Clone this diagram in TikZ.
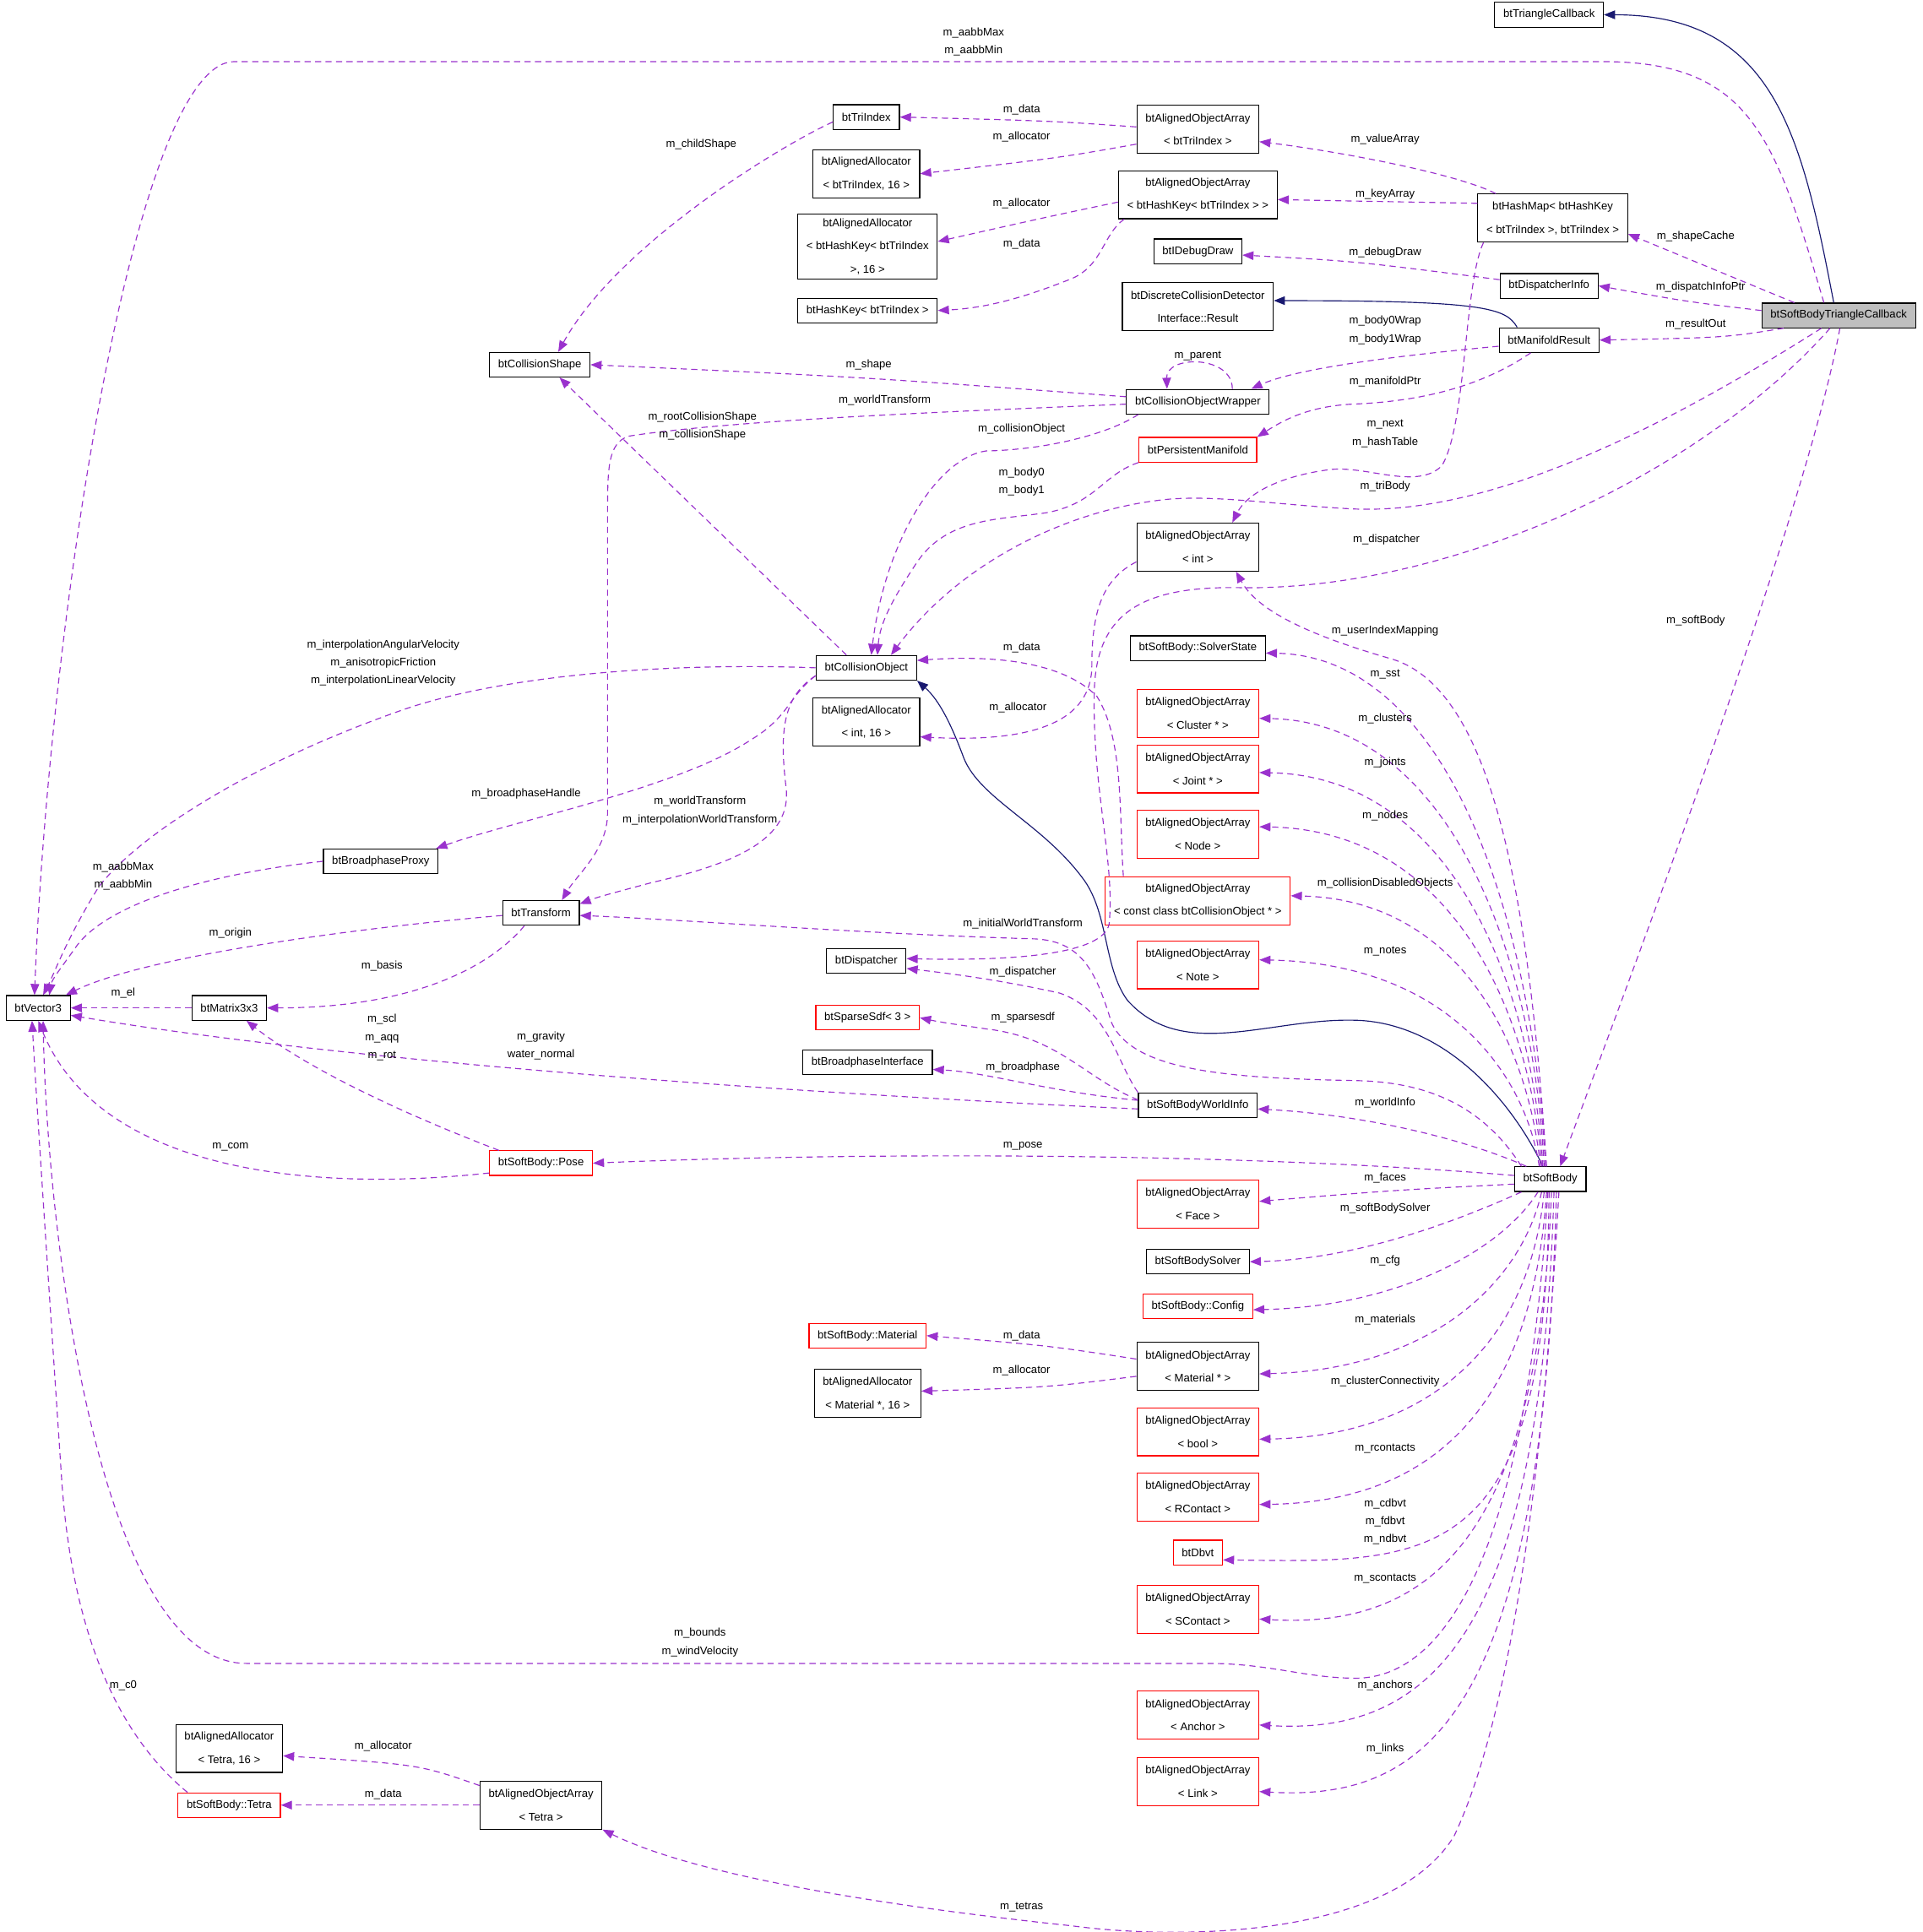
\documentclass[tikz,border=0pt]{standalone}
\usepackage{fontspec}
\setmainfont{Liberation Sans}
\usetikzlibrary{arrows.meta,calc}
\definecolor{memberc}{HTML}{9A32CD}
\definecolor{inheritc}{HTML}{191970}
\definecolor{boxred}{HTML}{FF0000}
\definecolor{classgray}{HTML}{BFBFBF}
\newcommand\classfont{\fontsize{9}{19}\selectfont}
\newcommand\memberfont{\fontsize{9}{14.6}\selectfont}

\begin{document}
\begin{tikzpicture}[x=1pt,y=-1pt,
  cls/.style={draw=black,line width=0.8pt,fill=white,font=\classfont,inner xsep=7pt,inner ysep=3pt,minimum height=20pt,align=center},
  clsred/.style={cls,draw=boxred},
  twoline/.style={minimum height=39pt},
  lbl/.style={font=\memberfont,inner sep=0.5pt,align=center},
  member/.style={draw=memberc,line width=0.8pt,dash pattern=on 5pt off 3.5pt,-{Triangle[length=9pt,width=7pt]}},
  inherit/.style={draw=inheritc,line width=0.8pt,-{Triangle[length=9pt,width=7pt]}}]
\useasboundingbox (0,0) rectangle (1560,1568);

  %classes
  \node[cls] (triCb) at (1257,12) {btTriangleCallback};
  \node[cls,fill=classgray] (sbtc) at (1492,256) {btSoftBodyTriangleCallback};
  \node[cls] (vec) at (31,818) {btVector3};
  \node[cls] (triIdx) at (703,95) {btTriIndex};
  \node[cls,twoline] (aoaTri) at (972,105) {btAlignedObjectArray\\< btTriIndex >};
  \node[cls,twoline] (allocTri) at (703,141) {btAlignedAllocator\\< btTriIndex, 16 >};
  \node[cls,twoline] (aoaHash) at (972,158) {btAlignedObjectArray\\< btHashKey< btTriIndex > >};
  \node[cls,minimum height=53pt] (allocHash) at (704,200) {btAlignedAllocator\\< btHashKey< btTriIndex\\>, 16 >};
  \node[cls] (hashKey) at (704,252) {btHashKey< btTriIndex >};
  \node[cls,twoline] (hashMap) at (1260,177) {btHashMap< btHashKey\\< btTriIndex >, btTriIndex >};
  \node[cls] (debugDraw) at (972,204) {btIDebugDraw};
  \node[cls] (dispInfo) at (1257,232) {btDispatcherInfo};
  \node[cls,twoline] (dcdResult) at (972,249) {btDiscreteCollisionDetector\\Interface::Result};
  \node[cls] (manifoldRes) at (1257,276) {btManifoldResult};
  \node[cls] (colShape) at (438,296) {btCollisionShape};
  \node[cls] (colWrap) at (972,326) {btCollisionObjectWrapper};
  \node[clsred] (persMan) at (972,365) {btPersistentManifold};
  \node[cls,twoline] (aoaInt) at (972,444) {btAlignedObjectArray\\< int >};
  \node[cls] (colObj) at (703,542) {btCollisionObject};
  \node[cls,twoline] (allocInt) at (703,586) {btAlignedAllocator\\< int, 16 >};
  \node[cls] (solverState) at (972,526) {btSoftBody::SolverState};
  \node[clsred,twoline] (aoaCluster) at (972,579) {btAlignedObjectArray\\< Cluster * >};
  \node[clsred,twoline] (aoaJoint) at (972,624) {btAlignedObjectArray\\< Joint * >};
  \node[clsred,twoline] (aoaNode) at (972,677) {btAlignedObjectArray\\< Node >};
  \node[clsred,twoline] (aoaConstCol) at (972,731) {btAlignedObjectArray\\< const class btCollisionObject * >};
  \node[clsred,twoline] (aoaNote) at (972,783) {btAlignedObjectArray\\< Note >};
  \node[cls] (bpProxy) at (309,699) {btBroadphaseProxy};
  \node[cls] (transform) at (439,741) {btTransform};
  \node[cls] (dispatcher) at (703,780) {btDispatcher};
  \node[cls] (matrix) at (186,818) {btMatrix3x3};
  \node[clsred] (sparseSdf) at (704,826) {btSparseSdf< 3 >};
  \node[cls] (bpIface) at (704,862) {btBroadphaseInterface};
  \node[cls] (worldInfo) at (972,897) {btSoftBodyWorldInfo};
  \node[clsred] (pose) at (439,944) {btSoftBody::Pose};
  \node[cls] (softBody) at (1258,957) {btSoftBody};
  \node[clsred,twoline] (aoaFace) at (972,977) {btAlignedObjectArray\\< Face >};
  \node[cls] (sbSolver) at (972,1024) {btSoftBodySolver};
  \node[clsred] (config) at (972,1060) {btSoftBody::Config};
  \node[clsred] (material) at (704,1084) {btSoftBody::Material};
  \node[cls,twoline] (aoaMaterial) at (972,1109) {btAlignedObjectArray\\< Material * >};
  \node[cls,twoline] (allocMaterial) at (704,1131) {btAlignedAllocator\\< Material *, 16 >};
  \node[clsred,twoline] (aoaBool) at (972,1162) {btAlignedObjectArray\\< bool >};
  \node[clsred,twoline] (aoaRContact) at (972,1215) {btAlignedObjectArray\\< RContact >};
  \node[clsred] (dbvt) at (972,1260) {btDbvt};
  \node[clsred,twoline] (aoaSContact) at (972,1306) {btAlignedObjectArray\\< SContact >};
  \node[clsred,twoline] (aoaAnchor) at (972,1392) {btAlignedObjectArray\\< Anchor >};
  \node[clsred,twoline] (aoaLink) at (972,1446) {btAlignedObjectArray\\< Link >};
  \node[cls,twoline] (allocTetra) at (186,1419) {btAlignedAllocator\\< Tetra, 16 >};
  \node[clsred] (tetra) at (186,1465) {btSoftBody::Tetra};
  \node[cls,twoline] (aoaTetra) at (439,1465) {btAlignedObjectArray\\< Tetra >};

  %inheritance
  \draw[inherit] ($(sbtc.north)+(-4,0)$) .. controls (1462,110) and (1440,12) .. (triCb.east);
  \draw[inherit] ($(manifoldRes.north west)+(15,0)$) .. controls (1222,250) and (1205,244) .. ($(dcdResult.east)+(0,-5)$);
  \draw[inherit] ($(softBody.north)+(-6,0)$) .. controls (1225,890) and (1170,830) .. (1100,828)
     .. controls (1030,826) and (960,862) .. (915,812) .. controls (895,785) and (900,740) .. (878,712)
     .. controls (845,668) and (795,648) .. (782,615) .. controls (772,588) and (762,568) .. (colObj.south east);

  %btSoftBodyTriangleCallback
  \draw[member] ($(sbtc.north)+(-12,0)$) .. controls (1440,110) and (1420,50) .. (1300,50) -- (190,50)
     .. controls (110,50) and (40,500) .. ($(vec.north)+(-3,0)$);
  \draw[member] ($(sbtc.north)+(-36,0)$) -- ($(hashMap.south east)+(0,-7)$);
  \draw[member] ($(sbtc.west)+(0,-4)$) .. controls (1370,245) .. (dispInfo.east);
  \draw[member] ($(sbtc.south west)+(18,0)$) .. controls (1400,274) .. (manifoldRes.east);
  \draw[member] ($(sbtc.south)+(-14,0)$) .. controls (1330,360) and (1200,418) .. (1097,413)
     .. controls (1040,410) and (990,402) .. (950,405) .. controls (870,412) and (780,455) .. ($(colObj.north)+(20,0)$);
  \draw[member] ($(sbtc.south)+(-7,0)$) .. controls (1380,385) and (1180,478) .. (1010,477)
     .. controls (930,475) and (890,495) .. (888,560) .. controls (886,640) and (905,700) .. (900,750)
     .. controls (895,775) and (820,780) .. ($(dispatcher.east)+(0,-2)$);
  \draw[member] ($(sbtc.south)+(1,0)$) .. controls (1465,420) and (1320,800) .. ($(softBody.north)+(8,0)$);

  %btHashMap and arrays
  \draw[member] ($(hashMap.north west)+(15,0)$) .. controls (1180,140) and (1080,122) .. ($(aoaTri.east)+(0,10)$);
  \draw[member] ($(hashMap.west)+(0,-12)$) -- ($(aoaHash.east)+(0,4)$);
  \draw[member] ($(hashMap.south west)+(5,0)$) .. controls (1188,230) and (1190,345) .. (1170,378)
     .. controls (1150,398) and (1110,378) .. (1080,381) .. controls (1040,386) and (1012,400) .. ($(aoaInt.north)+(28,0)$);
  \draw[member] ($(aoaTri.west)+(0,-2)$) .. controls (850,98) .. (triIdx.east);
  \draw[member] ($(aoaTri.west)+(0,12)$) .. controls (860,128) .. (allocTri.east);
  \draw[member] ($(aoaHash.west)+(0,6)$) .. controls (850,176) .. ($(allocHash.east)+(0,-4)$);
  \draw[member] ($(aoaHash.south west)+(5,0)$) .. controls (895,190) and (895,215) .. (870,226)
     .. controls (830,242) and (800,250) .. (hashKey.east);
  \draw[member] ($(triIdx.west)+(0,4)$) .. controls (630,120) and (500,200) .. ($(colShape.north)+(15,0)$);

  %result and wrapper
  \draw[member] ($(dispInfo.west)+(0,-5)$) .. controls (1100,212) .. ($(debugDraw.east)+(0,3)$);
  \draw[member] ($(manifoldRes.west)+(0,5)$) .. controls (1120,290) and (1050,300) .. ($(colWrap.north east)+(-15,0)$);
  \draw[member] ($(manifoldRes.south west)+(26,0)$) .. controls (1200,315) and (1150,326) .. (1097,328)
     .. controls (1060,330) and (1040,342) .. (persMan.north east);
  \draw[member] ($(colWrap.west)+(0,-4)$) .. controls (700,306) .. (colShape.east);
  \draw[member] ($(colWrap.north)+(28,0)$) .. controls (1000,288) and (946,288) .. ($(colWrap.north)+(-25,0)$);
  \draw[member] ($(colWrap.west)+(0,2)$) .. controls (800,333) and (600,340) .. (510,354)
     .. controls (493,360) and (493,380) .. (493,420) -- (493,660) .. controls (493,690) and (468,710) .. ($(transform.north)+(17,0)$);
  \draw[member] ($(colWrap.south west)+(10,0)$) .. controls (900,352) and (850,365) .. (800,366)
     .. controls (760,372) and (718,440) .. ($(colObj.north)+(4,0)$);
  \draw[member] (persMan.south west) .. controls (895,385) and (890,408) .. (850,416)
     .. controls (810,422) and (770,420) .. (745,455) .. controls (725,485) and (714,505) .. ($(colObj.north)+(9,0)$);
  \draw[member] ($(aoaInt.west)+(0,12)$) .. controls (895,470) and (886,495) .. (886,540)
     .. controls (886,585) and (840,603) .. ($(allocInt.east)+(0,12)$);
  \draw[member] ($(aoaConstCol.north west)+(15,0)$) .. controls (908,660) and (912,600) .. (890,565)
     .. controls (860,535) and (800,532) .. ($(colObj.east)+(0,-6)$);

  %btCollisionObject
  \draw[member] ($(colObj.north west)+(25,0)$) -- ($(colShape.south)+(16,0)$);
  \draw[member] (colObj.west) .. controls (560,538) and (420,545) .. (330,575) .. controls (200,620) and (110,680) .. (80,720)
     .. controls (55,760) and (44,790) .. ($(vec.north)+(4,0)$);
  \draw[member] ($(colObj.south west)+(0,-4)$) .. controls (640,565) and (640,582) .. (610,600)
     .. controls (550,640) and (420,665) .. ($(bpProxy.north east)+(-2,0)$);
  \draw[member] ($(colObj.south west)+(0,-4)$) .. controls (636,565) and (632,592) .. (638,640)
     .. controls (642,680) and (600,700) .. (530,716) .. controls (500,724) and (485,728) .. ($(transform.north east)+(0,3)$);

  %left side
  \draw[member] (bpProxy.west) .. controls (180,708) and (90,730) .. (62,768) .. controls (50,785) and (42,795) .. ($(vec.north)+(9,0)$);
  \draw[member] ($(transform.west)+(0,2)$) .. controls (300,752) and (120,775) .. ($(vec.north east)+(-4,0)$);
  \draw[member] ($(transform.south west)+(18,0)$) .. controls (400,782) and (340,818) .. (matrix.east);
  \draw[member] (matrix.west) -- (vec.east);
  \draw[member] ($(worldInfo.west)+(0,3)$) .. controls (700,890) and (300,865) .. ($(vec.east)+(0,6)$);
  \draw[member] ($(pose.north west)+(8,0)$) .. controls (330,905) and (250,868) .. ($(matrix.south)+(14,0)$);
  \draw[member] ($(pose.west)+(0,8)$) .. controls (250,968) and (80,950) .. (vec.south);
  \draw[member] ($(tetra.north west)+(8,0)$) .. controls (110,1420) and (60,1350) .. (50,1200)
     .. controls (40,1050) and (30,900) .. ($(vec.south)+(-5,0)$);
  \draw[member] ($(aoaTetra.north west)+(0,4)$) .. controls (340,1432) .. ($(allocTetra.east)+(0,6)$);
  \draw[member] (aoaTetra.west) -- (tetra.east);
  \draw[member] ($(aoaMaterial.west)+(0,-6)$) .. controls (850,1092) .. (material.east);
  \draw[member] ($(aoaMaterial.west)+(0,8)$) .. controls (850,1126) .. ($(allocMaterial.east)+(0,-2)$);

  %btSoftBodyWorldInfo
  \draw[member] (worldInfo.north west) .. controls (905,860) and (900,820) .. (860,806)
     .. controls (810,795) and (770,790) .. ($(dispatcher.east)+(0,6)$);
  \draw[member] ($(worldInfo.north west)+(0,6)$) .. controls (880,875) and (860,842) .. (800,835)
     .. controls (780,832) and (765,830) .. (sparseSdf.east);
  \draw[member] ($(worldInfo.west)+(0,-4)$) .. controls (850,886) and (800,870) .. ($(bpIface.east)+(0,6)$);

  %btSoftBody, upper fan
  \draw[member] ($(softBody.north)+(-3,0)$) .. controls (1240,720) and (1210,560) .. (1130,535)
     .. controls (1060,515) and (1020,495) .. ($(aoaInt.south)+(31,0)$);
  \draw[member] ($(softBody.north)+(-4,0)$) .. controls (1245,760) and (1180,533) .. ($(solverState.east)+(0,4)$);
  \draw[member] ($(softBody.north)+(-5,0)$) .. controls (1245,783) and (1180,586) .. ($(aoaCluster.east)+(0,4)$);
  \draw[member] ($(softBody.north)+(-6,0)$) .. controls (1243,803) and (1180,630) .. ($(aoaJoint.east)+(0,3)$);
  \draw[member] ($(softBody.north)+(-7,0)$) .. controls (1242,823) and (1180,674) .. ($(aoaNode.east)+(0,-6)$);
  \draw[member] ($(softBody.north)+(-8,0)$) .. controls (1240,848) and (1185,730) .. ($(aoaConstCol.east)+(0,-4)$);
  \draw[member] ($(softBody.north)+(-9,0)$) .. controls (1238,872) and (1175,782) .. ($(aoaNote.east)+(0,-4)$);
  \draw[member] ($(softBody.north west)+(10,0)$) .. controls (1190,925) and (1110,905) .. ($(worldInfo.east)+(0,3)$);
  \draw[member] ($(softBody.north west)+(6,0)$) .. controls (1200,892) and (1150,878) .. (1100,877)
     .. controls (1000,875) and (920,870) .. (902,830) .. controls (890,792) and (880,764) .. (840,762)
     .. controls (700,758) and (550,746) .. ($(transform.east)+(0,2)$);
  \draw[member] ($(softBody.west)+(0,-3)$) .. controls (1000,935) and (700,935) .. (pose.east);

  %btSoftBody, lower fan
  \draw[member] ($(softBody.west)+(0,4)$) .. controls (1130,966) .. ($(aoaFace.east)+(0,-2)$);
  \draw[member] ($(softBody.south west)+(6,0)$) .. controls (1180,992) and (1100,1022) .. (sbSolver.east);
  \draw[member] ($(softBody.south)+(-10,0)$) .. controls (1220,1012) and (1140,1060) .. ($(config.east)+(0,3)$);
  \draw[member] ($(softBody.south)+(-7,0)$) .. controls (1232,1050) and (1150,1112) .. ($(aoaMaterial.east)+(0,6)$);
  \draw[member] ($(softBody.south)+(-5,0)$) .. controls (1240,1100) and (1150,1166) .. ($(aoaBool.east)+(0,6)$);
  \draw[member] ($(softBody.south)+(-3,0)$) .. controls (1243,1150) and (1155,1219) .. ($(aoaRContact.east)+(0,6)$);
  \draw[member] ($(softBody.south)+(-1,0)$) .. controls (1255,1275) and (1160,1268) .. ($(dbvt.east)+(0,6)$);
  \draw[member] ($(softBody.south)+(1,0)$) .. controls (1248,1250) and (1160,1322) .. ($(aoaSContact.east)+(0,8)$);
  \draw[member] ($(softBody.south)+(3,0)$) .. controls (1250,1330) and (1160,1408) .. ($(aoaAnchor.east)+(0,8)$);
  \draw[member] ($(softBody.south)+(5,0)$) .. controls (1252,1390) and (1160,1462) .. ($(aoaLink.east)+(0,8)$);
  \draw[member] ($(softBody.south)+(-2,0)$) .. controls (1240,1240) and (1180,1362) .. (1100,1362)
     .. controls (1060,1362) and (1030,1350) .. (980,1350) -- (200,1350) .. controls (80,1350) and (38,1000) .. ($(vec.south)+(4,0)$);
  \draw[member] ($(softBody.south)+(7,0)$) .. controls (1255,1150) and (1232,1380) .. (1180,1490)
     .. controls (1130,1572) and (960,1575) .. (870,1563) .. controls (700,1545) and (560,1520) .. (aoaTetra.south east);

  %labels
  \node[lbl] (lAabbTop) at (790,34) {m\_aabbMax\\m\_aabbMin};
  \node[lbl] (lValueArray) at (1124,113) {m\_valueArray};
  \node[lbl] (lKeyArray) at (1124,158) {m\_keyArray};
  \node[lbl] (lShapeCache) at (1376,192) {m\_shapeCache};
  \node[lbl] (lDispInfoPtr) at (1380,233) {m\_dispatchInfoPtr};
  \node[lbl] (lResultOut) at (1376,263) {m\_resultOut};
  \node[lbl] (lTriData) at (829,89) {m\_data};
  \node[lbl] (lTriAlloc) at (829,111) {m\_allocator};
  \node[lbl] (lHashAlloc) at (829,165) {m\_allocator};
  \node[lbl] (lHashData) at (829,198) {m\_data};
  \node[lbl] (lChildShape) at (569,117) {m\_childShape};
  \node[lbl] (lDebugDraw) at (1124,205) {m\_debugDraw};
  \node[lbl] (lBodyWrap) at (1124,268) {m\_body0Wrap\\m\_body1Wrap};
  \node[lbl] (lParent) at (972,289) {m\_parent};
  \node[lbl] (lShape) at (705,296) {m\_shape};
  \node[lbl] (lWrapTrans) at (718,325) {m\_worldTransform};
  \node[lbl] (lColShape) at (570,346) {m\_rootCollisionShape\\m\_collisionShape};
  \node[lbl] (lManifoldPtr) at (1124,310) {m\_manifoldPtr};
  \node[lbl] (lColObject) at (829,348) {m\_collisionObject};
  \node[lbl] (lHashTable) at (1124,352) {m\_next\\m\_hashTable};
  \node[lbl] (lBodies) at (829,391) {m\_body0\\m\_body1};
  \node[lbl] (lTriBody) at (1124,395) {m\_triBody};
  \node[lbl] (lCbDispatcher) at (1125,438) {m\_dispatcher};
  \node[lbl] (lUserIndex) at (1124,512) {m\_userIndexMapping};
  \node[lbl] (lSoftBody) at (1376,504) {m\_softBody};
  \node[lbl] (lVelocities) at (311,538) {m\_interpolationAngularVelocity\\m\_anisotropicFriction\\m\_interpolationLinearVelocity};
  \node[lbl] (lConstData) at (829,526) {m\_data};
  \node[lbl] (lSst) at (1124,547) {m\_sst};
  \node[lbl] (lIntAlloc) at (826,574) {m\_allocator};
  \node[lbl] (lClusters) at (1124,583) {m\_clusters};
  \node[lbl] (lJoints) at (1124,619) {m\_joints};
  \node[lbl] (lBpHandle) at (427,644) {m\_broadphaseHandle};
  \node[lbl] (lObjTrans) at (568,658) {m\_worldTransform\\m\_interpolationWorldTransform};
  \node[lbl] (lNodes) at (1124,662) {m\_nodes};
  \node[lbl] (lAabbProxy) at (100,711) {m\_aabbMax\\m\_aabbMin};
  \node[lbl] (lDisabled) at (1124,717) {m\_collisionDisabledObjects};
  \node[lbl] (lInitTrans) at (830,750) {m\_initialWorldTransform};
  \node[lbl] (lOrigin) at (187,757) {m\_origin};
  \node[lbl] (lNotes) at (1124,772) {m\_notes};
  \node[lbl] (lBasis) at (310,784) {m\_basis};
  \node[lbl] (lWiDispatcher) at (830,789) {m\_dispatcher};
  \node[lbl] (lEl) at (100,806) {m\_el};
  \node[lbl] (lSparse) at (830,826) {m\_sparsesdf};
  \node[lbl] (lPoseMat) at (310,842) {m\_scl\\m\_aqq\\m\_rot};
  \node[lbl] (lGravity) at (439,849) {m\_gravity\\water\_normal};
  \node[lbl] (lBroadphase) at (830,866) {m\_broadphase};
  \node[lbl] (lWorldInfo) at (1124,895) {m\_worldInfo};
  \node[lbl] (lPose) at (830,930) {m\_pose};
  \node[lbl] (lCom) at (187,931) {m\_com};
  \node[lbl] (lFaces) at (1124,956) {m\_faces};
  \node[lbl] (lSolver) at (1124,981) {m\_softBodySolver};
  \node[lbl] (lCfg) at (1124,1023) {m\_cfg};
  \node[lbl] (lMatData) at (829,1084) {m\_data};
  \node[lbl] (lMaterials) at (1124,1071) {m\_materials};
  \node[lbl] (lMatAlloc) at (829,1112) {m\_allocator};
  \node[lbl] (lConnect) at (1124,1121) {m\_clusterConnectivity};
  \node[lbl] (lRContacts) at (1124,1176) {m\_rcontacts};
  \node[lbl] (lDbvt) at (1124,1235) {m\_cdbvt\\m\_fdbvt\\m\_ndbvt};
  \node[lbl] (lSContacts) at (1124,1281) {m\_scontacts};
  \node[lbl] (lBounds) at (568,1333) {m\_bounds\\m\_windVelocity};
  \node[lbl] (lAnchors) at (1124,1368) {m\_anchors};
  \node[lbl] (lC0) at (100,1368) {m\_c0};
  \node[lbl] (lTetAlloc) at (311,1417) {m\_allocator};
  \node[lbl] (lLinks) at (1124,1419) {m\_links};
  \node[lbl] (lTetData) at (311,1456) {m\_data};
  \node[lbl] (lTetras) at (829,1548) {m\_tetras};
\end{tikzpicture}
\end{document}
